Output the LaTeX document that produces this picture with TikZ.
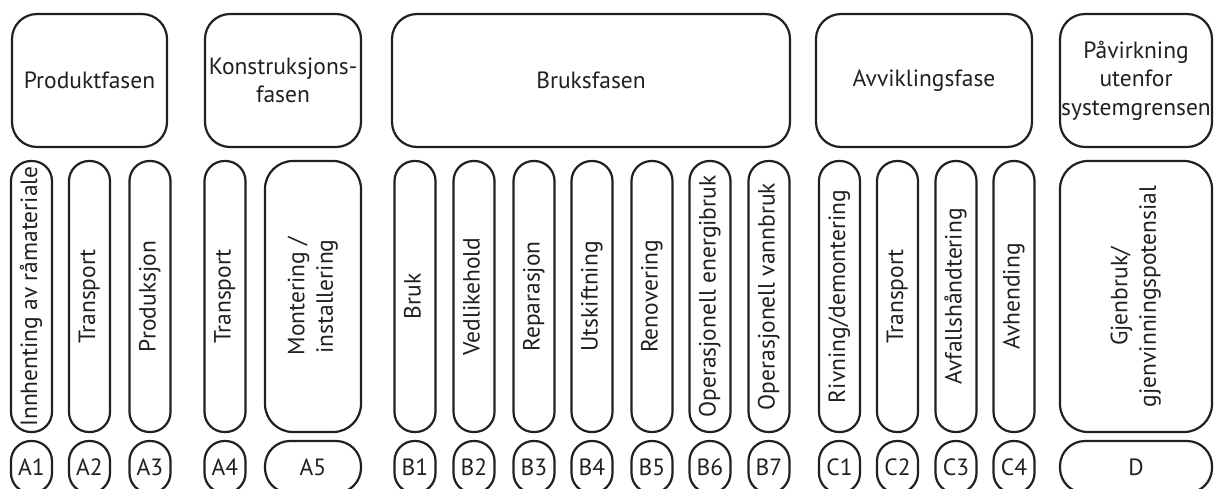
\documentclass[tikz,border=0pt]{standalone}
\usepackage{fontspec}
\setmainfont{PT Sans}
\definecolor{ink}{RGB}{35,31,32}
\newcommand{\fs}{\fontsize{23.5}{28.5}\selectfont}
\newcommand{\rt}[1]{\rotatebox{90}{\begin{tabular}{@{}c@{}}#1\end{tabular}}}
\begin{document}
\begin{tikzpicture}[x=1pt,y=-1pt,
  box/.style={draw=ink, line width=2.2pt, inner sep=0pt, align=center, text=ink, font=\fs},
  phase/.style={box, rounded corners=25pt, minimum height=133pt},
  pill/.style={box, rounded corners=20pt, minimum width=41pt, minimum height=271pt},
  widepill/.style={box, rounded corners=28pt, minimum height=271pt},
  lab/.style={box, rounded corners=20pt, minimum width=41pt, minimum height=52pt},
  widelab/.style={box, rounded corners=25pt, minimum height=52pt}]
\useasboundingbox (0,0) rectangle (1215,488);
\clip (0,0) rectangle (1215,488);
% top row
\node[phase, minimum width=155pt] (pA) at (89.5,80.5) {Produktfasen};
\node[phase, minimum width=156pt] (pK) at (283,80.5) {Konstruksjons-\\fasen};
\node[phase, minimum width=398pt] (pB) at (591,80.5) {Bruksfasen};
\node[phase, minimum width=216pt] (pC) at (924,80.5) {Avviklingsfase};
\node[phase, minimum width=152pt] (pD) at (1136,80.5) {Påvirkning\\utenfor\\systemgrensen};
% middle row
\node[pill] (mA1) at (31.5,296.5) {\rt{Innhenting av råmateriale}};
\node[pill] (mA2) at (89.5,296.5) {\rt{Transport}};
\node[pill] (mA3) at (150,296.5) {\rt{Produksjon}};
\node[pill] (mA4) at (225,296.5) {\rt{Transport}};
\node[widepill, minimum width=96pt] (mA5) at (313,296.5) {\rt{Montering /\\installering}};
\node[pill] (mB1) at (415,296.5) {\rt{Bruk}};
\node[pill] (mB2) at (474,296.5) {\rt{Vedlikehold}};
\node[pill] (mB3) at (534,296.5) {\rt{Reparasjon}};
\node[pill] (mB4) at (592,296.5) {\rt{Utskiftning}};
\node[pill] (mB5) at (652,296.5) {\rt{Renovering}};
\node[pill] (mB6) at (710,296.5) {\rt{Operasjonell energibruk}};
\node[pill] (mB7) at (769,296.5) {\rt{Operasjonell vannbruk}};
\node[pill] (mC1) at (839.5,296.5) {\rt{Rivning/demontering}};
\node[pill] (mC2) at (897.5,296.5) {\rt{Transport}};
\node[pill] (mC3) at (956,296.5) {\rt{Avfallshåndtering}};
\node[pill] (mC4) at (1014,296.5) {\rt{Avhending}};
\node[widepill, minimum width=152pt] (mD) at (1136,296.5) {\rt{Gjenbruk/\\gjenvinningspotensial}};
% bottom row
\node[lab] (A1) at (31.5,467) {A1};
\node[lab] (A2) at (89.5,467) {A2};
\node[lab] (A3) at (150,467) {A3};
\node[lab] (A4) at (225,467) {A4};
\node[widelab, minimum width=96pt] (A5) at (313,467) {A5};
\node[lab] (B1) at (415,467) {B1};
\node[lab] (B2) at (474,467) {B2};
\node[lab] (B3) at (534,467) {B3};
\node[lab] (B4) at (592,467) {B4};
\node[lab] (B5) at (652,467) {B5};
\node[lab] (B6) at (710,467) {B6};
\node[lab] (B7) at (769,467) {B7};
\node[lab] (C1) at (839.5,467) {C1};
\node[lab] (C2) at (897.5,467) {C2};
\node[lab] (C3) at (956,467) {C3};
\node[lab] (C4) at (1014,467) {C4};
\node[widelab, minimum width=152pt] (D) at (1136,467) {D};
\end{tikzpicture}
\end{document}
